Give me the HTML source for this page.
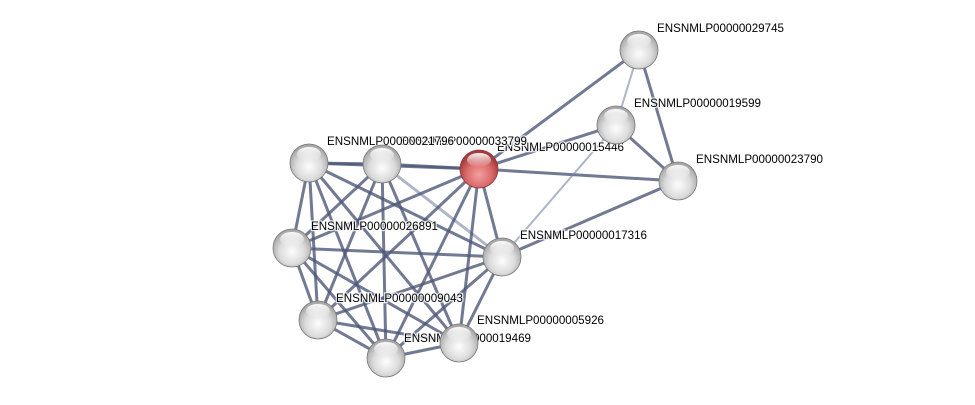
<!DOCTYPE html>
<html><head><meta charset="utf-8"><style>
html,body{margin:0;padding:0;background:#fff;width:975px;height:405px;overflow:hidden}
text{font-family:"Liberation Sans",sans-serif;font-size:11.6px;fill:#000;paint-order:stroke;stroke:#fff;stroke-width:2.5px;stroke-opacity:.8}
</style></head><body>
<svg width="975" height="405" viewBox="0 0 975 405">
<defs>
<radialGradient id="g" cx="50%" cy="60%" r="55%">
<stop offset="0" stop-color="#fdfdfd"/><stop offset=".6" stop-color="#dcdcdc"/><stop offset="1" stop-color="#a8a8a8"/></radialGradient>
<radialGradient id="r" cx="50%" cy="65%" r="55%">
<stop offset="0" stop-color="#f4a0a0"/><stop offset=".6" stop-color="#da6b6b"/><stop offset="1" stop-color="#a83c3c"/></radialGradient>
<linearGradient id="h" x1="0" y1="0" x2="0" y2="1"><stop offset="0" stop-color="#fff" stop-opacity=".95"/><stop offset="1" stop-color="#fff" stop-opacity="0"/></linearGradient>
</defs>
<g stroke="#4e5878" stroke-opacity=".8" stroke-width="3" fill="none">
<line x1="479" y1="169" x2="639" y2="50"/>
<line x1="479" y1="169" x2="616" y2="125"/>
<line x1="479" y1="169" x2="678" y2="181"/>
<line x1="639" y1="50" x2="678" y2="181"/>
<line x1="616" y1="125" x2="678" y2="181"/>
<line x1="502" y1="257" x2="678" y2="181"/>
<line x1="639" y1="50" x2="616" y2="125" stroke="#7884a4" stroke-width="2" stroke-opacity=".6"/>
<line x1="616" y1="125" x2="502" y2="257" stroke="#7884a4" stroke-width="2" stroke-opacity=".6"/>
<line x1="309" y1="163" x2="382" y2="164"/>
<line x1="382" y1="164" x2="479" y2="169"/>
<line x1="309" y1="163" x2="479" y2="169"/>
<line x1="309" y1="163" x2="292" y2="248"/>
<line x1="309" y1="163" x2="502" y2="257"/>
<line x1="309" y1="163" x2="318" y2="320"/>
<line x1="309" y1="163" x2="386" y2="358"/>
<line x1="309" y1="163" x2="459" y2="343"/>
<line x1="382" y1="164" x2="292" y2="248"/>
<line x1="382" y1="164" x2="502" y2="257" stroke="#7884a4" stroke-opacity=".6"/>
<line x1="382" y1="164" x2="318" y2="320"/>
<line x1="382" y1="164" x2="386" y2="358"/>
<line x1="382" y1="164" x2="459" y2="343"/>
<line x1="479" y1="169" x2="292" y2="248"/>
<line x1="479" y1="169" x2="502" y2="257"/>
<line x1="479" y1="169" x2="318" y2="320"/>
<line x1="479" y1="169" x2="386" y2="358"/>
<line x1="479" y1="169" x2="459" y2="343"/>
<line x1="292" y1="248" x2="502" y2="257"/>
<line x1="292" y1="248" x2="318" y2="320"/>
<line x1="292" y1="248" x2="386" y2="358"/>
<line x1="292" y1="248" x2="459" y2="343"/>
<line x1="502" y1="257" x2="318" y2="320"/>
<line x1="502" y1="257" x2="386" y2="358"/>
<line x1="502" y1="257" x2="459" y2="343"/>
<line x1="318" y1="320" x2="386" y2="358"/>
<line x1="318" y1="320" x2="459" y2="343"/>
<line x1="386" y1="358" x2="459" y2="343"/>
</g>
<text x="497" y="151">ENSNMLP00000015446</text>
<text x="404" y="342">ENSNMLP00000019469</text>
<text x="400" y="145">ENSNMLP00000033799</text>
<text x="327" y="145">ENSNMLP00000021796</text>
<g stroke="#777" stroke-width=".8">
<circle cx="639" cy="50" r="19" fill="url(#g)"/>
<circle cx="616" cy="125" r="19" fill="url(#g)"/>
<circle cx="678" cy="181" r="19" fill="url(#g)"/>
<circle cx="309" cy="163" r="19" fill="url(#g)"/>
<circle cx="382" cy="164" r="19" fill="url(#g)"/>
<circle cx="479" cy="169" r="19" fill="url(#r)" stroke="#8a3a3a"/>
<circle cx="292" cy="248" r="19" fill="url(#g)"/>
<circle cx="502" cy="257" r="19" fill="url(#g)"/>
<circle cx="318" cy="320" r="19" fill="url(#g)"/>
<circle cx="386" cy="358" r="19" fill="url(#g)"/>
<circle cx="459" cy="343" r="19" fill="url(#g)"/>
</g>
<g fill="url(#h)">
<ellipse cx="639" cy="41" rx="12" ry="7"/><ellipse cx="616" cy="116" rx="12" ry="7"/><ellipse cx="678" cy="172" rx="12" ry="7"/>
<ellipse cx="309" cy="154" rx="12" ry="7"/><ellipse cx="382" cy="155" rx="12" ry="7"/><ellipse cx="479" cy="160" rx="12" ry="7"/>
<ellipse cx="292" cy="239" rx="12" ry="7"/><ellipse cx="502" cy="248" rx="12" ry="7"/><ellipse cx="318" cy="311" rx="12" ry="7"/>
<ellipse cx="386" cy="349" rx="12" ry="7"/><ellipse cx="459" cy="334" rx="12" ry="7"/>
</g>
<text x="657" y="32">ENSNMLP00000029745</text>
<text x="634" y="107">ENSNMLP00000019599</text>
<text x="696" y="163">ENSNMLP00000023790</text>
<text x="311" y="230">ENSNMLP00000026891</text>
<text x="520" y="239">ENSNMLP00000017316</text>
<text x="336" y="302">ENSNMLP00000009043</text>
<text x="477" y="324">ENSNMLP00000005926</text>
</svg>
</body></html>
